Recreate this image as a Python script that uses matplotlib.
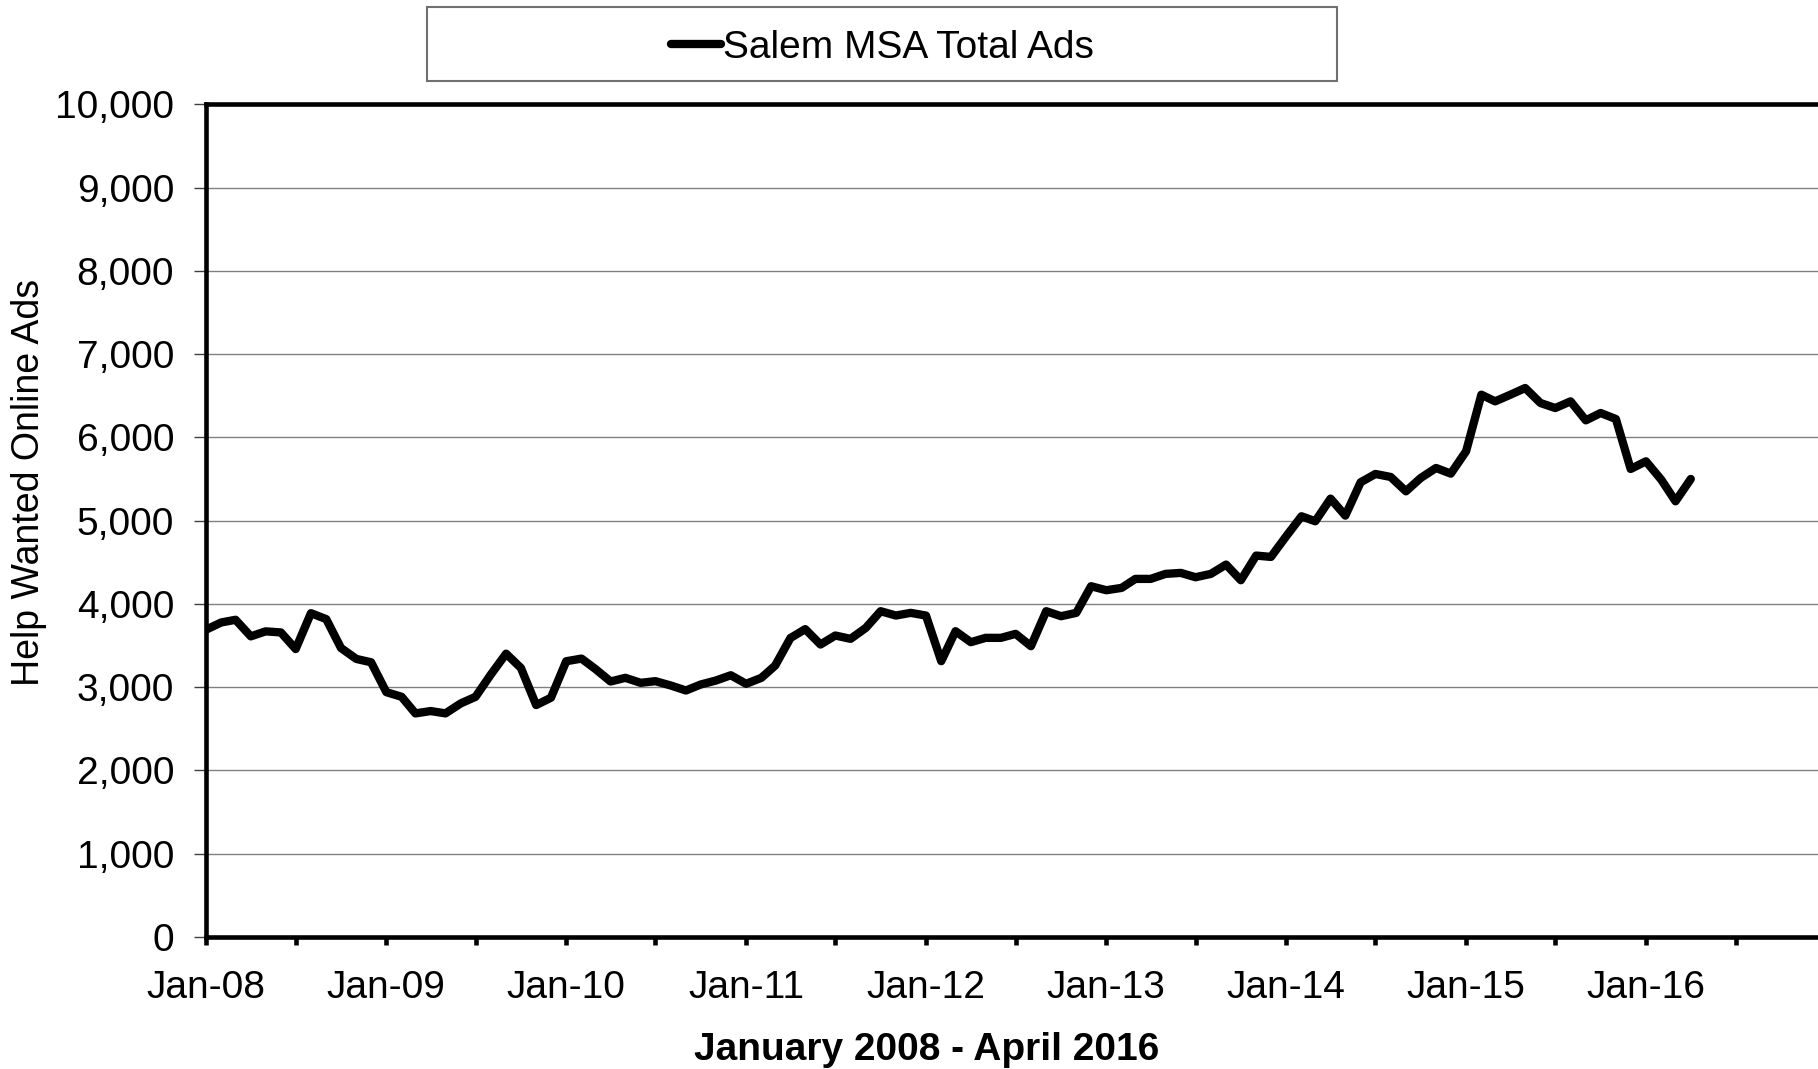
import matplotlib
matplotlib.use("Agg")
import matplotlib.pyplot as plt
import matplotlib.dates as mdates
from matplotlib.ticker import FuncFormatter, MultipleLocator
from matplotlib.patches import Rectangle
import pandas as pd

#DATA=============================================================================
# monthly help wanted online ads, Salem MSA
ads_2008 = [3690, 3777, 3809, 3610, 3670, 3657, 3458, 3888, 3817, 3470, 3339, 3299]
ads_2009 = [2940, 2884, 2685, 2713, 2685, 2805, 2884, 3151, 3402, 3231, 2785, 2873]
ads_2010 = [3311, 3343, 3219, 3068, 3112, 3052, 3072, 3020, 2960, 3032, 3080, 3143]
ads_2011 = [3040, 3112, 3259, 3590, 3697, 3512, 3620, 3580, 3712, 3912, 3860, 3892]
ads_2012 = [3860, 3312, 3672, 3540, 3592, 3592, 3640, 3492, 3912, 3852, 3892, 4212]
ads_2013 = [4164, 4192, 4300, 4300, 4360, 4372, 4320, 4360, 4472, 4284, 4580, 4564]
ads_2014 = [4812, 5052, 4992, 5264, 5060, 5460, 5560, 5524, 5352, 5512, 5632, 5564]
ads_2015 = [5832, 6512, 6432, 6512, 6592, 6412, 6352, 6432, 6204, 6292, 6220, 5620]
ads_2016 = [5712, 5492, 5232, 5500]

total_ads = (ads_2008 + ads_2009 + ads_2010 + ads_2011 + ads_2012
             + ads_2013 + ads_2014 + ads_2015 + ads_2016)
months = pd.date_range('2008-01-01', periods=len(total_ads), freq='MS')

series_label = 'Salem MSA Total Ads'
y_label = 'Help Wanted Online Ads'
x_label = 'January 2008 - April 2016'
#DATA=============================================================================

plt.rcParams['font.family'] = ['Liberation Sans', 'DejaVu Sans']
plt.rcParams['font.size'] = 28

fig = plt.figure(figsize=(18.18, 10.69), dpi=100)
# plot area runs a little past the right edge of the picture
ax = fig.add_axes([0.1133, 0.1235, 0.891, 0.779])

ax.plot(months, total_ads, color='black', linewidth=6,
        solid_joinstyle='round', solid_capstyle='round',
        label=series_label, zorder=3)

# axes limits and ticks (Jan-17 tick would sit past the edge, so stop just before)
ax.set_ylim(0, 10000)
ax.set_xlim(pd.Timestamp('2008-01-01'), pd.Timestamp('2016-12-31'))
ax.yaxis.set_major_locator(MultipleLocator(1000))
ax.yaxis.set_major_formatter(FuncFormatter(lambda v, p: f'{int(v):,}'))
ax.xaxis.set_major_locator(mdates.MonthLocator(bymonth=1))
ax.xaxis.set_minor_locator(mdates.MonthLocator(bymonth=7))
ax.xaxis.set_major_formatter(mdates.DateFormatter('%b-%y'))

ax.grid(axis='y', color='#808080', linewidth=1.0, zorder=0)
ax.set_axisbelow(True)

for side in ['left', 'bottom', 'top']:
    ax.spines[side].set_linewidth(3.3)
    ax.spines[side].set_color('black')
ax.spines['right'].set_visible(False)

ax.tick_params(axis='x', which='both', direction='out', length=6,
               width=3.3, color='black', pad=18)
ax.tick_params(axis='y', which='major', direction='out', length=9,
               width=1.0, color='#404040', pad=14)

ax.set_ylabel(y_label, fontsize=27)
ax.yaxis.set_label_coords(-0.098, 0.546)
ax.set_xlabel(x_label, fontsize=28, fontweight='bold')
ax.xaxis.set_label_coords(0.445, -0.114)

# legend box on top
box = Rectangle((0.235, 0.924), 0.5005, 0.0695, transform=fig.transFigure,
                facecolor='white', edgecolor='#707070', linewidth=1.5)
fig.patches.append(box)
handles, labels = ax.get_legend_handles_labels()
leg = fig.legend(handles, labels, loc='center', bbox_to_anchor=(0.4853, 0.9555),
                 frameon=False, handlelength=1.3, handletextpad=0.05,
                 fontsize=28)

fig.savefig('out.png', dpi=100)
plt.close(fig)
